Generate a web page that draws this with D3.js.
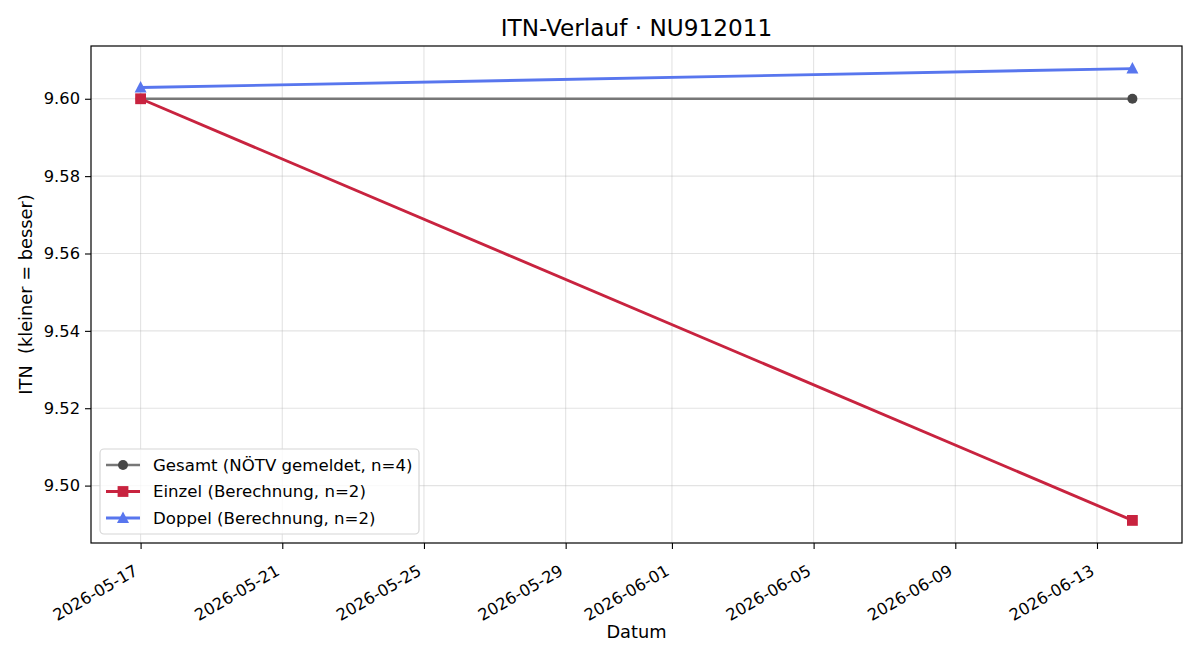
<!DOCTYPE html>
<html>
<head>
<meta charset="utf-8">
<script src="https://cdn.jsdelivr.net/npm/d3@7"></script>
<style>
  body{margin:0;background:#fff;}
  text{font-family:"DejaVu Sans",sans-serif;fill:#000;}
</style>
</head>
<body>
<div id="chart"></div>
<script>
// data
var dates = ["2026-05-17","2026-06-14"];
var gesamt = [9.600, 9.600];
var einzel = [9.600, 9.491];
var doppel = [9.6029, 9.6078];
var tickDates = ["2026-05-17","2026-05-21","2026-05-25","2026-05-29","2026-06-01","2026-06-05","2026-06-09","2026-06-13"];
var yTicks = [9.50,9.52,9.54,9.56,9.58,9.60];
var seriesNames = ["Gesamt (NÖTV gemeldet, n=4)","Einzel (Berechnung, n=2)","Doppel (Berechnung, n=2)"];

var W=1200,H=660;
var m={left:91,right:1182,top:46,bottom:543};
var parse=d3.utcParse("%Y-%m-%d");
var xs=dates.map(parse);

var svg=d3.select("#chart").append("svg").attr("width",W).attr("height",H);

// matplotlib-like 5% margins
var t0=xs[0].getTime(),t1=xs[1].getTime(),dt=(t1-t0)*0.05;
var x=d3.scaleUtc().domain([new Date(t0-dt),new Date(t1+dt)]).range([m.left,m.right]);
var all=gesamt.concat(einzel,doppel);
var ymin=d3.min(all),ymax=d3.max(all),dy=(ymax-ymin)*0.05;
var y=d3.scaleLinear().domain([ymin-dy,ymax+dy]).range([m.bottom,m.top]);

// grid
var g=svg.append("g");
tickDates.forEach(function(d){
  g.append("line").attr("x1",x(parse(d))).attr("x2",x(parse(d)))
   .attr("y1",m.top).attr("y2",m.bottom)
   .attr("stroke","#b0b0b0").attr("stroke-opacity",0.35).attr("stroke-width",1.1);
});
yTicks.forEach(function(v){
  g.append("line").attr("x1",m.left).attr("x2",m.right)
   .attr("y1",y(v)).attr("y2",y(v))
   .attr("stroke","#b0b0b0").attr("stroke-opacity",0.35).attr("stroke-width",1.1);
});

// axes
var xAxis=d3.axisBottom(x).tickValues(tickDates.map(parse)).tickFormat(d3.utcFormat("%Y-%m-%d")).tickSize(6).tickSizeOuter(0);
var gx=svg.append("g").attr("transform","translate(0,"+m.bottom+")").call(xAxis);
gx.selectAll("text").attr("font-size",16.3).attr("text-anchor","end")
  .attr("dy",0).attr("dx",0).attr("y",0)
  .attr("transform","translate(-2,31) rotate(-30)");
var yAxis=d3.axisLeft(y).tickValues(yTicks).tickFormat(d3.format(".2f")).tickSize(6).tickSizeOuter(0);
var gy=svg.append("g").attr("transform","translate("+m.left+",0)").call(yAxis);
gy.selectAll("text").attr("font-size",16.3).attr("x",-11);
svg.selectAll(".domain").remove();
svg.selectAll(".tick line").attr("stroke","#000").attr("stroke-width",1.1);

svg.append("rect").attr("x",m.left).attr("y",m.top)
  .attr("width",m.right-m.left).attr("height",m.bottom-m.top)
  .attr("fill","none").attr("stroke","#000").attr("stroke-width",1.2);

// series
var line=d3.line().x(function(d,i){return x(xs[i]);}).y(function(d){return y(d);});
var cols=[{l:"#777777",mk:"#474747",w:2.3},{l:"#c8233f",mk:"#c8233f",w:2.9},{l:"#5876ee",mk:"#5876ee",w:2.9}];
var data=[gesamt,einzel,doppel];

function marker(sel,k,cx,cy,col){
  if(k==0){
    sel.append("circle").attr("cx",cx).attr("cy",cy).attr("r",5).attr("fill",col);
  }else if(k==1){
    sel.append("rect").attr("x",cx-5.4).attr("y",cy-5.4).attr("width",10.8).attr("height",10.8).attr("fill",col);
  }else{
    sel.append("path").attr("d","M"+cx+","+(cy-6.5)+"L"+(cx+6)+","+(cy+5)+"L"+(cx-6)+","+(cy+5)+"Z").attr("fill",col);
  }
}

data.forEach(function(s,k){
  svg.append("path").datum(s).attr("d",line).attr("fill","none")
    .attr("stroke",cols[k].l).attr("stroke-width",cols[k].w);
  s.forEach(function(v,i){ marker(svg,k,x(xs[i]),y(v),cols[k].mk); });
});

// legend
var lg=svg.append("g");
lg.append("rect").attr("x",100).attr("y",449).attr("width",319).attr("height",85)
  .attr("rx",4).attr("fill","#fff").attr("fill-opacity",0.8).attr("stroke","#d6d6d6").attr("stroke-width",1.2);
seriesNames.forEach(function(n,k){
  var yy=465+k*26.5;
  lg.append("line").attr("x1",106).attr("x2",140).attr("y1",yy).attr("y2",yy)
    .attr("stroke",cols[k].l).attr("stroke-width",cols[k].w);
  marker(lg,k,123,yy,cols[k].mk);
  lg.append("text").attr("x",153).attr("y",yy).attr("dy","0.36em").attr("font-size",16.6).text(n);
});

// labels
svg.append("text").attr("x",(m.left+m.right)/2).attr("y",36).attr("text-anchor","middle")
  .attr("font-size",23.2).text("ITN-Verlauf · NU912011");
svg.append("text").attr("x",(m.left+m.right)/2).attr("y",638).attr("text-anchor","middle")
  .attr("font-size",17.8).text("Datum");
svg.append("text").attr("transform","translate(32,"+((m.top+m.bottom)/2)+") rotate(-90)")
  .attr("text-anchor","middle").attr("font-size",17.8).style("white-space","pre")
  .text("ITN  (kleiner = besser)");
</script>
</body>
</html>
